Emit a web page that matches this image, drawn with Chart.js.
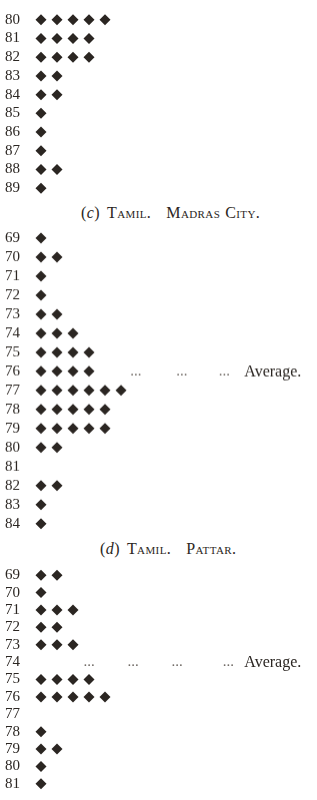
<!DOCTYPE html>
<html>
<head>
<meta charset="utf-8">
<script src="https://cdn.jsdelivr.net/npm/chart.js@4/dist/chart.umd.min.js"></script>
<style>
html,body{margin:0;padding:0;background:#ffffff;}
#page{position:relative;width:317px;height:800px;overflow:hidden;font-family:"Liberation Serif",serif;color:#2b2622;}
.box{position:absolute;left:0;width:317px;}
.title{position:absolute;font-size:16px;line-height:18px;white-space:nowrap;letter-spacing:0.4px;}
.title span{display:inline-block;}
.sc{font-variant:small-caps;}
</style>
</head>
<body>
<div id="page">
  <div class="box" style="top:4.6px;height:198px"><canvas id="chartB"></canvas></div>
  <div class="title" style="top:204px;left:81px"><span>(<i>c</i>)</span><span class="sc" style="margin-left:7px">Tamil.</span><span class="sc" style="margin-left:15px">Madras</span><span class="sc" style="margin-left:5px">City.</span></div>
  <div class="box" style="top:223.2px;height:314.7px"><canvas id="chartC"></canvas></div>
  <div class="title" style="top:540px;left:100px"><span>(<i>d</i>)</span><span class="sc" style="margin-left:7px">Tamil.</span><span class="sc" style="margin-left:15px">Pattar.</span></div>
  <div class="box" style="top:560.9px;height:237px"><canvas id="chartD"></canvas></div>
</div>
<script>
// ---- data ----
const prevLabels   = ['80','81','82','83','84','85','86','87','88','89'];
const prevCounts   = [5,4,4,2,2,1,1,1,2,1];

const madrasLabels = ['69','70','71','72','73','74','75','76','77','78','79','80','81','82','83','84'];
const madrasCounts = [1,2,1,1,2,3,4,4,6,5,5,2,0,2,1,1];
const madrasAverage = '76';

const pattarLabels = ['69','70','71','72','73','74','75','76','77','78','79','80','81'];
const pattarCounts = [2,1,3,2,3,0,4,5,0,1,2,1,1];
const pattarAverage = '74';

const averageText = 'Average.';

// ---- drawing ----
const INK = '#2b2622';
const FONT = '"Liberation Serif", serif';

const averagePlugin = {
  id: 'avg',
  afterDatasetsDraw(chart, args, opts) {
    if (!opts || opts.row == null || opts.row < 0) return;
    const ctx = chart.ctx, x = chart.scales.x, y = chart.scales.y;
    const py = y.getPixelForValue(opts.row);
    ctx.save();
    ctx.textBaseline = 'alphabetic';
    ctx.font = '15px ' + FONT;
    ctx.fillStyle = '#6f6964';
    ctx.textAlign = 'center';
    opts.dots.forEach(v => ctx.fillText('...', x.getPixelForValue(v), py + 4));
    ctx.font = '16px ' + FONT;
    ctx.fillStyle = INK;
    ctx.textAlign = 'left';
    ctx.fillText(averageText, x.getPixelForValue(opts.textAt), py + 5);
    ctx.restore();
  }
};

function makeChart(id, labels, counts, avgLabel, dots) {
  const pts = [];
  counts.forEach((n, i) => { for (let k = 1; k <= n; k++) pts.push({x: k, y: i}); });
  const avgRow = avgLabel ? labels.indexOf(avgLabel) : null;
  return new Chart(document.getElementById(id), {
    type: 'scatter',
    data: { datasets: [{
      data: pts,
      pointStyle: 'rectRot',
      pointRadius: 5.5,
      pointBackgroundColor: INK,
      pointBorderColor: INK,
      pointBorderWidth: 0
    }]},
    options: {
      responsive: true,
      maintainAspectRatio: false,
      animation: false,
      events: [],
      layout: { padding: { left: 5, right: 0, top: 0, bottom: 0 } },
      plugins: {
        legend: { display: false },
        tooltip: { enabled: false },
        avg: avgRow == null ? { row: null } : { row: avgRow, dots: dots, textAt: 13.7 }
      },
      scales: {
        x: { type: 'linear', display: false, min: 0, max: 17.9 },
        y: {
          type: 'linear',
          reverse: true,
          min: -0.5,
          max: labels.length - 0.5,
          grid: { display: false },
          border: { display: false },
          afterBuildTicks: s => { s.ticks = labels.map((_, i) => ({ value: i })); },
          afterFit: s => { s.width = 20; s.paddingTop = 0; s.paddingBottom = 0; },
          ticks: {
            autoSkip: false,
            crossAlign: 'far',
            color: INK,
            font: { family: FONT, size: 15 },
            callback: v => labels[v] ?? ''
          }
        }
      }
    },
    plugins: [averagePlugin]
  });
}

makeChart('chartB', prevLabels, prevCounts, null, []);
makeChart('chartC', madrasLabels, madrasCounts, madrasAverage, [6.93, 9.8, 12.45]);
makeChart('chartD', pattarLabels, pattarCounts, pattarAverage, [4.0, 6.75, 9.5, 12.7]);
</script>
</body>
</html>
